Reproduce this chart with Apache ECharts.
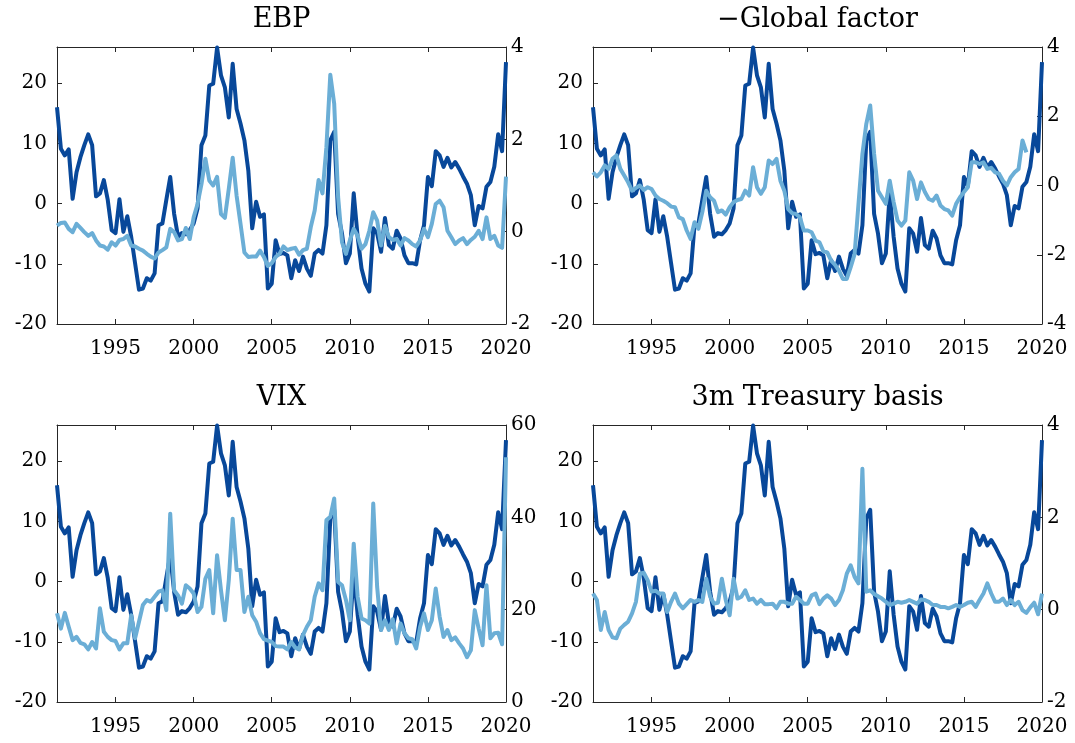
<!DOCTYPE html>
<html>
<head>
<meta charset="utf-8">
<script src="https://cdn.jsdelivr.net/npm/echarts@6/dist/echarts.min.js"></script>
<style>html,body{margin:0;padding:0;background:#fff}#c{width:1075px;height:743px}</style>
</head>
<body>
<div id="c"></div>
<script>
// ---- data (quarterly, 1991Q2 .. 2020Q1) ----
const startYear = 1991.25;
const yearTicks = [1995, 2000, 2005, 2010, 2015, 2020];
const leftTicks = [-20, -10, 0, 10, 20];
const titles = ['EBP', '\u2212Global factor', 'VIX', '3m Treasury basis'];

const darkSeries = [16.0, 9.1, 8.0, 9.0, 0.8, 5.2, 7.7, 9.7, 11.5, 9.7, 1.2, 1.7, 3.9, 0.6, -4.4, -4.9, 0.7, -4.7, -2.1, -5.5, -9.9, -14.3, -14.1, -12.4, -12.8, -11.6, -3.6, -3.3, 0.6, 4.4, -1.7, -5.5, -4.9, -5.1, -4.4, -3.3, -0.8, 9.7, 11.3, 19.6, 19.9, 25.9, 21.3, 19.3, 14.3, 23.2, 15.7, 13.3, 10.5, 5.5, -4.1, 0.3, -2.2, -1.8, -14.1, -13.3,
  -6.1, -8.4, -8.2, -8.6, -12.4, -9.4, -11.2, -8.8, -10.8, -12.0, -8.3, -7.7, -8.3, -3.6, 10.5, 11.9, -1.7, -5.0, -9.9, -8.3, 1.7, -5.5, -10.8, -13.3, -14.6, -4.1, -5.0, -8.0, -2.4, -6.9, -7.5, -4.5, -5.8, -8.6, -9.9, -9.9, -10.1, -6.1, -3.6, 4.4, 2.9, 8.7, 8.0, 6.1, 7.6, 6.0, 6.9, 5.8, 4.5, 3.3, 1.4, -3.6, -0.4, -0.8, 2.8, 3.6, 6.1, 11.5, 8.7, 23.5];

const ebp = [0.13, 0.19, 0.20, 0.06, -0.01, 0.17, 0.08, -0.01, -0.09, -0.03, -0.19, -0.30, -0.32, -0.39, -0.23, -0.30, -0.18, -0.16, -0.09, -0.30, -0.32, -0.37, -0.41, -0.48, -0.54, -0.58, -0.45, -0.40, -0.34, 0.06, -0.01, -0.19, -0.16, 0.08, -0.16, 0.31, 0.60, 1.03, 1.58, 1.11, 1.00, 1.19, 0.38, 0.30, 0.93, 1.60, 0.78, 0.17, -0.45, -0.55, -0.54, -0.54, -0.41, -0.55, -0.74, -0.68,
  -0.55, -0.48, -0.32, -0.40, -0.37, -0.35, -0.50, -0.40, -0.37, 0.10, 0.46, 1.12, 0.83, 1.83, 3.40, 2.77, 0.75, -0.23, -0.48, -0.19, 0.06, -0.09, -0.37, -0.27, 0.02, 0.42, 0.24, -0.30, 0.13, -0.12, -0.18, -0.16, -0.30, -0.14, -0.19, -0.27, -0.32, -0.19, 0.06, -0.12, 0.17, 0.60, 0.67, 0.53, 0.02, -0.12, -0.27, -0.19, -0.14, -0.27, -0.18, -0.11, 0.02, -0.16, 0.31, -0.16, -0.09, -0.30, -0.35, 1.19];

const globalFactor = [0.38, 0.26, 0.38, 0.58, 0.48, 0.77, 0.87, 0.48, 0.29, 0.09, -0.15, -0.07, 0.00, -0.13, -0.05, -0.10, -0.29, -0.39, -0.44, -0.51, -0.61, -0.63, -0.92, -0.97, -1.30, -1.54, -1.06, -1.25, -0.77, -0.15, -0.34, -0.44, -0.77, -0.72, -0.84, -0.63, -0.48, -0.42, -0.39, -0.15, -0.29, 0.53, -0.05, -0.24, -0.05, 0.72, 0.62, 0.77, 0.14, -0.15, -0.68, -0.80, -0.82, -0.92, -1.30, -1.30,
  -1.35, -1.59, -1.64, -1.90, -1.93, -2.17, -2.29, -2.46, -2.70, -2.70, -2.36, -1.98, -0.53, 0.91, 1.78, 2.31, 0.91, -0.15, -0.34, -0.53, 0.14, -0.48, -1.01, -1.16, -1.01, 0.38, 0.14, -0.39, 0.09, -0.19, -0.39, -0.44, -0.29, -0.58, -0.68, -0.72, -0.87, -0.53, -0.34, -0.19, -0.05, 0.67, 0.67, 0.62, 0.67, 0.48, 0.51, 0.38, 0.34, 0.14, 0.00, 0.24, 0.38, 0.48, 1.30, 0.96];

const vix = [19.2, 15.9, 19.3, 16.3, 13.4, 14.1, 12.8, 12.5, 11.4, 13.0, 11.6, 20.3, 15.2, 14.1, 13.4, 13.2, 11.4, 12.7, 12.7, 18.8, 13.8, 17.4, 21.0, 22.1, 21.7, 22.8, 23.9, 24.2, 19.9, 40.8, 24.2, 23.1, 21.3, 25.3, 24.6, 23.5, 19.5, 20.6, 26.7, 28.6, 19.2, 31.8, 24.2, 17.7, 26.4, 39.7, 28.6, 28.6, 19.5, 22.8, 18.8, 17.4, 14.9, 13.6, 13.3, 13.0,
  12.1, 12.0, 12.0, 11.4, 13.0, 11.8, 11.4, 14.5, 16.3, 17.7, 22.8, 25.7, 24.2, 39.4, 40.1, 44.1, 26.0, 25.3, 22.1, 17.7, 34.3, 22.8, 18.1, 17.7, 17.0, 43.0, 24.9, 15.6, 17.7, 15.6, 17.9, 12.7, 17.0, 14.9, 13.8, 13.6, 11.6, 16.3, 19.2, 15.6, 17.7, 24.6, 18.5, 14.1, 15.6, 13.4, 14.0, 12.7, 11.6, 9.7, 11.2, 19.9, 15.9, 12.3, 25.3, 13.8, 14.9, 15.0, 12.5, 53.0];

const tbasis = [0.35, 0.21, -0.44, -0.05, -0.44, -0.60, -0.62, -0.41, -0.33, -0.26, -0.08, 0.17, 0.78, 0.80, 0.64, 0.39, 0.41, 0.35, 0.35, -0.05, 0.17, 0.35, 0.13, 0.03, 0.12, 0.21, 0.17, 0.21, 0.17, 0.67, 0.28, 0.13, 0.15, 0.67, 0.21, -0.12, 0.67, 0.24, 0.28, 0.42, 0.21, 0.24, 0.13, 0.21, 0.12, 0.12, 0.13, 0.03, 0.17, 0.17, 0.13, 0.13, 0.28, 0.21, 0.13, 0.13,
  0.31, 0.35, 0.12, 0.24, 0.31, 0.24, 0.10, 0.21, 0.42, 0.78, 0.96, 0.71, 0.57, 3.05, 0.39, 0.42, 0.34, 0.29, 0.24, 0.17, 0.10, 0.13, 0.17, 0.15, 0.17, 0.21, 0.17, 0.13, 0.22, 0.21, 0.17, 0.10, 0.10, 0.06, 0.06, 0.03, 0.06, 0.10, 0.06, 0.10, 0.15, 0.17, 0.06, 0.21, 0.35, 0.57, 0.35, 0.17, 0.17, 0.24, 0.10, 0.21, 0.10, 0.17, -0.01, -0.07, 0.05, 0.15, -0.10, 0.35];

const rightRanges = [[-2, 4, 2], [-4, 4, 2], [0, 60, 20], [-2, 4, 2]];
const lightSeries = [ebp, globalFactor, vix, tbasis];

// ---- chart ----
const FONT = 'DejaVu Serif';
const FS = 20;
const TFS = 27;
const DARK = '#08489a';
const LIGHT = '#6baed6';
const AX = '#262626';
const grids = [
  {left: 57, top: 47, width: 449, height: 277},
  {left: 593, top: 47, width: 449, height: 277},
  {left: 57, top: 425, width: 449, height: 277},
  {left: 593, top: 425, width: 449, height: 277}
];
function toPairs(arr) { return arr.map((v, i) => [startYear + i * 0.25, v]); }
function rng(a, b, s) { const r = []; for (let v = a; v <= b + 1e-9; v += s) r.push(v); return r; }

const xAxis = [], yAxis = [], series = [], graphic = [];
grids.forEach((g, i) => {
  const common = {type: 'value', gridIndex: i, min: startYear, max: 2020, splitLine: {show: false},
    axisLine: {show: true, onZero: false, lineStyle: {color: AX, width: 1}}};
  xAxis.push(Object.assign({}, common, {position: 'bottom',
    axisTick: {show: true, inside: true, length: 5, customValues: yearTicks, lineStyle: {color: AX}},
    axisLabel: {show: true, customValues: yearTicks, formatter: v => String(v), color: '#000', fontFamily: FONT, fontSize: FS, margin: 15}}));
  xAxis.push(Object.assign({}, common, {position: 'top',
    axisTick: {show: true, inside: true, length: 5, customValues: yearTicks, lineStyle: {color: AX}},
    axisLabel: {show: false}}));
  yAxis.push({type: 'value', gridIndex: i, position: 'left', min: -20, max: 26, splitLine: {show: false},
    axisLine: {show: true, onZero: false, lineStyle: {color: AX, width: 1}},
    axisTick: {show: true, inside: true, length: 5, customValues: leftTicks, lineStyle: {color: AX}},
    axisLabel: {customValues: leftTicks, formatter: v => String(v), color: '#000', fontFamily: FONT, fontSize: FS, margin: 10}});
  const rr = rightRanges[i];
  const rt = rng(rr[0], rr[1], rr[2]);
  yAxis.push({type: 'value', gridIndex: i, position: 'right', min: rr[0], max: rr[1], interval: rr[2], splitLine: {show: false},
    axisLine: {show: true, onZero: false, lineStyle: {color: AX, width: 1}},
    axisTick: {show: true, inside: true, length: 5, customValues: rt, lineStyle: {color: AX}},
    axisLabel: {customValues: rt, formatter: v => String(v), color: '#000', fontFamily: FONT, fontSize: FS, margin: 5}});
  series.push({type: 'line', xAxisIndex: 2 * i, yAxisIndex: 2 * i, data: toPairs(darkSeries), showSymbol: false,
    lineStyle: {color: DARK, width: 4, join: 'round'}, z: 2, animation: false});
  series.push({type: 'line', xAxisIndex: 2 * i, yAxisIndex: 2 * i + 1, data: toPairs(lightSeries[i]), showSymbol: false,
    lineStyle: {color: LIGHT, width: 4, join: 'round'}, z: 3, animation: false});
  graphic.push({type: 'text', x: g.left + g.width / 2, y: g.top - 27, z: 10,
    style: {text: titles[i], textAlign: 'center', textVerticalAlign: 'middle', font: TFS + 'px "' + FONT + '"', fill: '#000'}});
});

const chart = echarts.init(document.getElementById('c'), null, {renderer: 'canvas'});
chart.setOption({animation: false, backgroundColor: '#fff', grid: grids.map(g => Object.assign({containLabel: false}, g)),
  xAxis, yAxis, series, graphic});
</script>
</body>
</html>
